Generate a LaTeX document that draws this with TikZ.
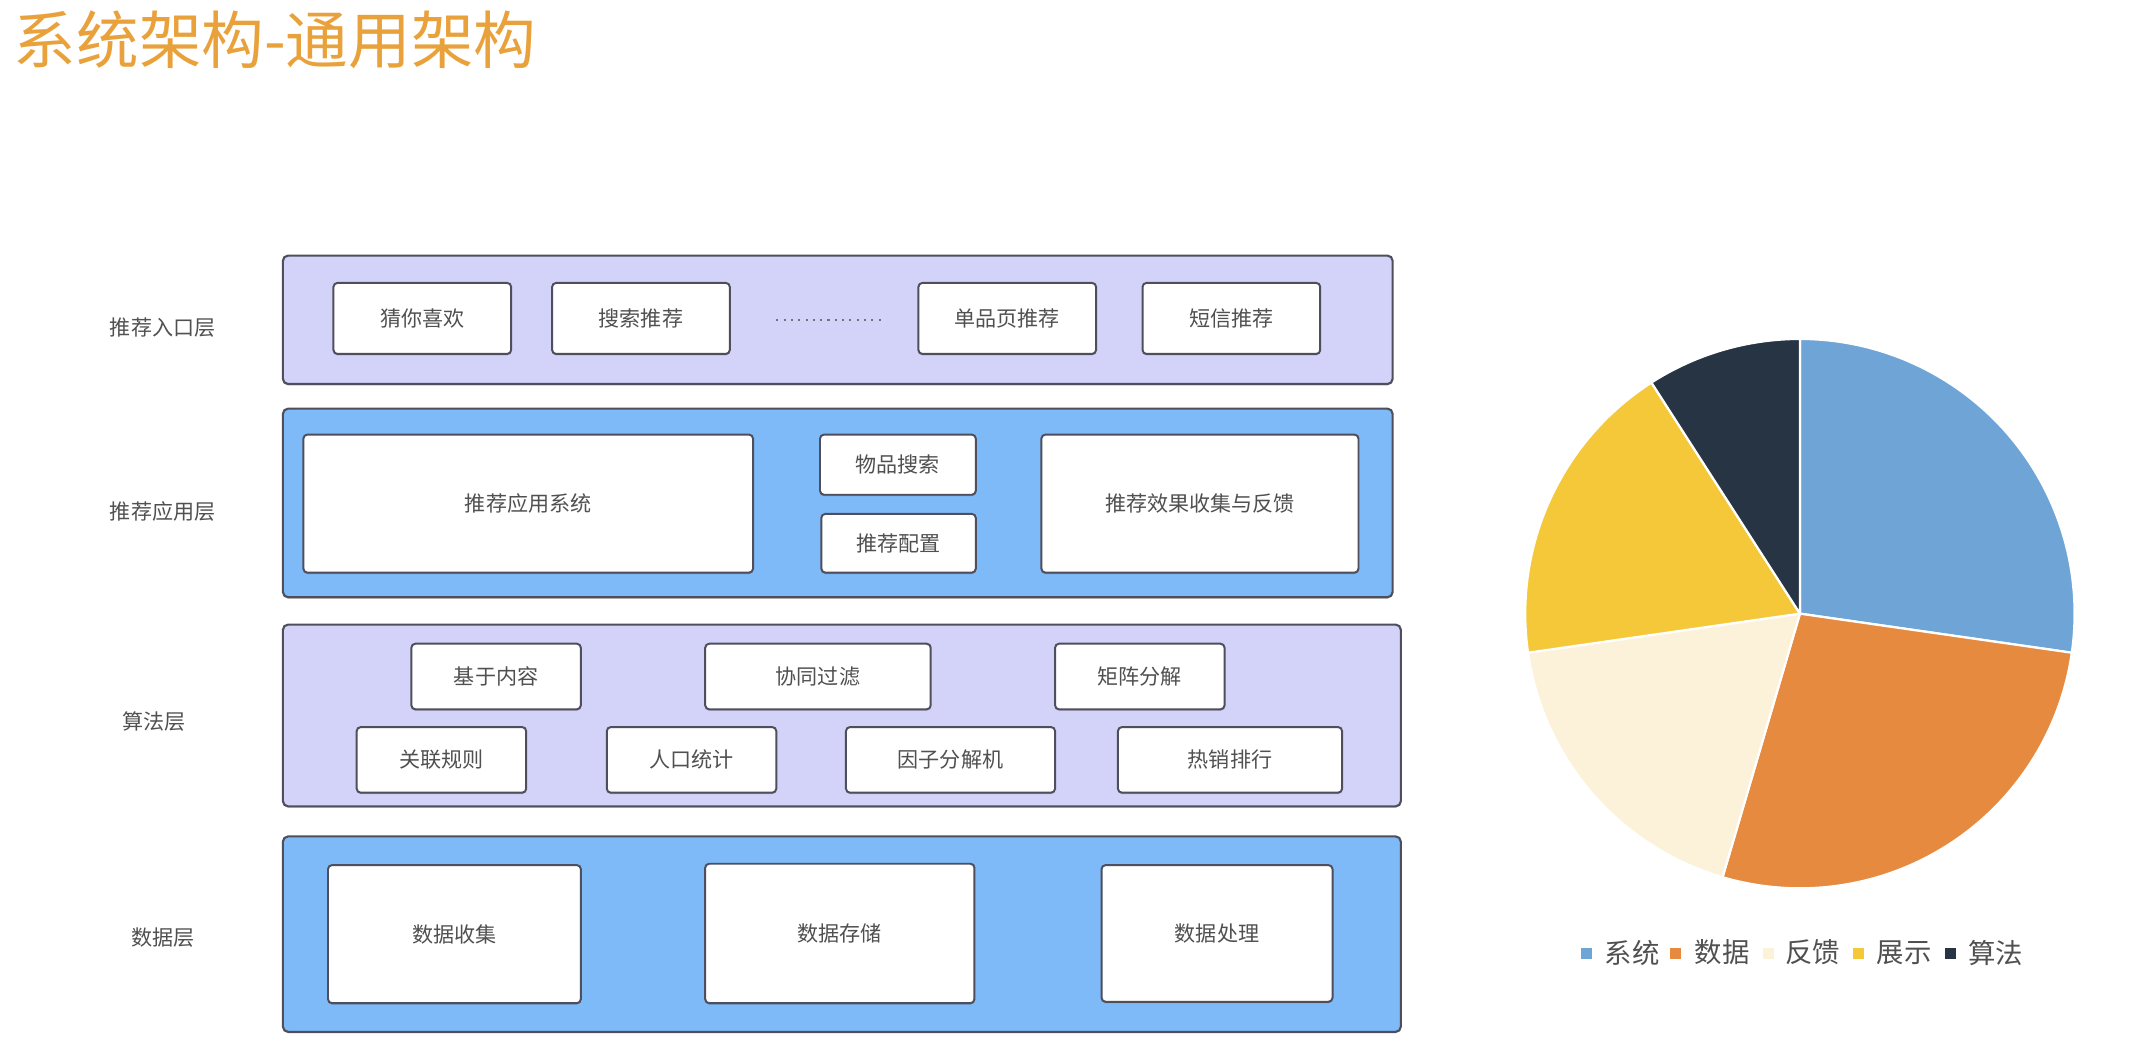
\documentclass[tikz,border=0pt]{standalone}
\usepackage{fontspec}
\setmainfont{Noto Sans CJK SC}
\usetikzlibrary{shadows}
\def\U{0.34167mm}
\definecolor{lav}{HTML}{D3D3F9}
\definecolor{skyb}{HTML}{7DBAF7}
\definecolor{bord}{HTML}{4E4E5C}
\definecolor{txtg}{HTML}{505050}
\definecolor{ttl}{HTML}{E9A23B}
\definecolor{pblue}{HTML}{6FA4D6}
\definecolor{porange}{HTML}{E68A40}
\definecolor{pcream}{HTML}{FBF2D9}
\definecolor{pyellow}{HTML}{F5C83A}
\definecolor{pdark}{HTML}{263444}
\tikzset{
  softshadow/.style={drop shadow={shadow xshift=0pt, shadow yshift=-0.35mm, opacity=0.22, fill=black}},
  layerbase/.style={draw=bord, line width=1.5pt, rounded corners=1.3mm, inner sep=0pt, softshadow},
  layerlav/.style={layerbase, fill=lav},
  layerblue/.style={layerbase, fill=skyb},
  itembox/.style={draw=bord, fill=white, line width=1.4pt, rounded corners=1mm, inner sep=0pt,
    text=txtg, font=\fontsize{15}{18}\selectfont, softshadow},
  layerlabel/.style={text=txtg, font=\fontsize{15}{18}\selectfont, inner sep=0pt},
  legtext/.style={text=txtg, font=\fontsize{19.5}{22}\selectfont, inner sep=0pt, anchor=west},
  legmark/.style={minimum size=8*\U, inner sep=0pt},
  slice/.style={draw=white, line width=1.6pt, line join=round},
  dotline/.style={draw=bord!80, line width=1.6pt, dash pattern=on 1.5pt off 3.7pt},
}
% box from corners (x1,y1)-(x2,y2)
\newcommand\mkbox[7]{\node[#1, minimum width={(#4-#2)*\U}, minimum height={(#5-#3)*\U}] (#6) at ({(#2+#4)/2},{(#3+#5)/2}) {#7};}
\begin{document}
\begin{tikzpicture}[x=\U, y=-\U]
\useasboundingbox (0,0) rectangle (1560,772.7);
% title
\node[anchor=west, text=ttl, font=\fontsize{44.5}{48}\selectfont, inner sep=0pt] (title) at (10,29) {系统架构-通用架构};

% layer labels
\node[layerlabel] (l1lab) at (119,240) {推荐入口层};
\node[layerlabel] (l2lab) at (119,374) {推荐应用层};
\node[layerlabel] (l3lab) at (113,528) {算法层};
\node[layerlabel] (l4lab) at (119,686) {数据层};

% layers
\mkbox{layerlav}{207}{187}{1019}{281}{L1}{}
\mkbox{layerblue}{207}{299}{1019}{437}{L2}{}
\mkbox{layerlav}{207}{457}{1025}{590}{L3}{}
\mkbox{layerblue}{207}{612}{1025}{755}{L4}{}

% layer 1 items
\mkbox{itembox}{244}{207}{374}{259}{a1}{猜你喜欢}
\mkbox{itembox}{404}{207}{534}{259}{a2}{搜索推荐}
\mkbox{itembox}{672}{207}{802}{259}{a3}{单品页推荐}
\mkbox{itembox}{836}{207}{966}{259}{a4}{短信推荐}
\coordinate (d1) at (568,234);
\coordinate (d2) at (645,234);
\draw[dotline] (d1) -- (d2);

% layer 2 items
\mkbox{itembox}{222}{318}{551}{419}{b1}{推荐应用系统}
\mkbox{itembox}{600}{318}{714}{362}{b2}{物品搜索}
\mkbox{itembox}{601}{376}{714}{419}{b3}{推荐配置}
\mkbox{itembox}{762}{318}{994}{419}{b4}{推荐效果收集与反馈}

% layer 3 items
\mkbox{itembox}{301}{471}{425}{519}{c1}{基于内容}
\mkbox{itembox}{516}{471}{681}{519}{c2}{协同过滤}
\mkbox{itembox}{772}{471}{896}{519}{c3}{矩阵分解}
\mkbox{itembox}{261}{532}{385}{580}{c4}{关联规则}
\mkbox{itembox}{444}{532}{568}{580}{c5}{人口统计}
\mkbox{itembox}{619}{532}{772}{580}{c6}{因子分解机}
\mkbox{itembox}{818}{532}{982}{580}{c7}{热销排行}

% layer 4 items
\mkbox{itembox}{240}{633}{425}{734}{e1}{数据收集}
\mkbox{itembox}{516}{632}{713}{734}{e2}{数据存储}
\mkbox{itembox}{806}{633}{975}{733}{e3}{数据处理}

% pie chart
\coordinate (pc) at (1317,449);
\begin{scope}[shift={(pc)}, x=\U, y=\U]
  \filldraw[slice, fill=pblue]   (0,0) -- (90:201) arc[start angle=90, end angle=-8.18, radius=201] -- cycle;
  \filldraw[slice, fill=porange] (0,0) -- (-8.18:201) arc[start angle=-8.18, end angle=-106.36, radius=201] -- cycle;
  \filldraw[slice, fill=pcream]  (0,0) -- (-106.36:201) arc[start angle=-106.36, end angle=-171.82, radius=201] -- cycle;
  \filldraw[slice, fill=pyellow] (0,0) -- (188.18:201) arc[start angle=188.18, end angle=122.73, radius=201] -- cycle;
  \filldraw[slice, fill=pdark]   (0,0) -- (122.73:201) arc[start angle=122.73, end angle=90, radius=201] -- cycle;
\end{scope}

% legend
\node[legmark, fill=pblue]   (m1) at (1161,698) {};
\node[legtext] (t1) at (1174,697) {系统};
\node[legmark, fill=porange] (m2) at (1226,698) {};
\node[legtext] (t2) at (1240,697) {数据};
\node[legmark, fill=pcream]  (m3) at (1294,698) {};
\node[legtext] (t3) at (1306,697) {反馈};
\node[legmark, fill=pyellow] (m4) at (1360,698) {};
\node[legtext] (t4) at (1373,697) {展示};
\node[legmark, fill=pdark]   (m5) at (1427,698) {};
\node[legtext] (t5) at (1440,697) {算法};
\end{tikzpicture}
\end{document}
